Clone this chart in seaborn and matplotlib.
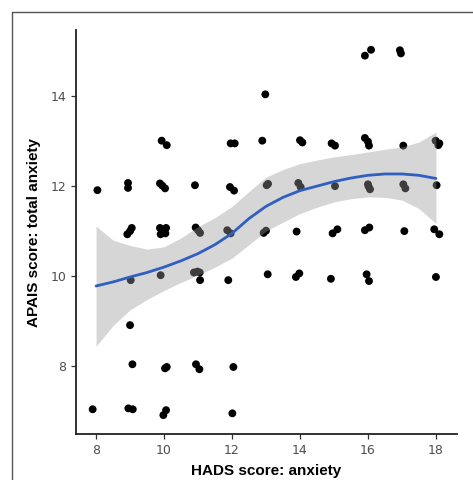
import numpy as np
import pandas as pd
import seaborn as sns
import matplotlib.pyplot as plt
from matplotlib.lines import Line2D

# jittered scatter points (HADS anxiety vs APAIS total)
hads = [7.9, 8.95, 9.08, 9.98, 10.06, 12.01,
        9.07, 10.03, 10.08, 10.94, 11.04, 12.04,
        9.0,
        9.02, 9.9, 10.88, 10.98, 11.05, 11.06, 11.89, 13.05, 13.88, 13.98, 14.91, 15.96, 16.03, 18.0,
        8.92, 9.0, 9.05, 9.88, 10.06, 9.9, 10.04, 10.93, 11.0, 11.06, 11.86, 11.96, 12.93, 13.0,
        13.9, 14.96, 15.1, 15.91, 16.04, 17.07, 17.95, 18.1,
        8.04, 8.94, 8.94, 9.88, 10.03, 9.95, 10.91, 11.94, 12.06, 13.02, 13.06,
        13.95, 14.02, 15.03, 16.0, 16.02, 16.06, 17.04, 17.1, 18.02,
        9.93, 10.08, 11.96, 12.08, 12.89, 14.0, 14.07, 14.93, 15.03, 15.91, 16.0, 16.03,
        17.04, 17.99, 18.07, 18.1,
        12.98,
        15.91, 16.09, 16.94, 16.97]
apais = [7.04, 7.06, 7.04, 6.91, 7.02, 6.95,
         8.04, 7.95, 7.98, 8.04, 7.93, 7.98,
         8.91,
         9.91, 10.02, 10.08, 10.1, 10.08, 9.91, 9.91, 10.04, 9.98, 10.06, 9.94, 10.04, 9.89, 9.98,
         10.93, 11.0, 11.07, 11.07, 11.07, 10.93, 10.95, 11.08, 11.02, 10.96, 11.02, 10.95, 10.96, 11.01,
         10.99, 10.95, 11.04, 11.02, 11.08, 11.0, 11.04, 10.93,
         11.91, 12.07, 11.96, 12.06, 11.95, 12.01, 12.02, 11.98, 11.9, 12.02, 12.05,
         12.07, 11.98, 12.0, 12.04, 11.99, 11.93, 12.04, 11.95, 12.02,
         13.01, 12.91, 12.95, 12.95, 13.01, 13.02, 12.97, 12.95, 12.9, 13.07, 12.99, 12.9,
         12.9, 13.01, 12.91, 12.95,
         14.04,
         14.9, 15.03, 15.02, 14.95]

# loess fit and its confidence band
fit_x = [8, 8.5, 9, 9.5, 10, 10.5, 11, 11.5, 12, 12.5, 13, 13.5, 14, 14.5, 15, 15.5, 16, 16.5, 17, 17.5, 18]
fit_y = [9.78, 9.87, 9.98, 10.08, 10.2, 10.34, 10.5, 10.7, 10.95, 11.28, 11.55, 11.75, 11.9,
         12.0, 12.1, 12.18, 12.24, 12.27, 12.27, 12.24, 12.17]
fit_lo = [8.44, 8.9, 9.25, 9.48, 9.68, 9.86, 10.02, 10.2, 10.4, 10.7, 11.0, 11.2, 11.39,
          11.53, 11.65, 11.72, 11.76, 11.75, 11.69, 11.5, 11.17]
fit_hi = [11.11, 10.8, 10.68, 10.6, 10.65, 10.85, 11.1, 11.3, 11.55, 11.88, 12.2, 12.37, 12.5,
          12.58, 12.65, 12.7, 12.76, 12.82, 12.87, 12.98, 13.2]

df = pd.DataFrame({'HADS': hads, 'APAIS': apais})
fit = pd.DataFrame({'x': fit_x, 'y': fit_y, 'lo': fit_lo, 'hi': fit_hi})

sns.set_style('ticks')
fig = plt.figure(figsize=(4.73, 4.80), dpi=100)
ax = fig.add_axes([0.1607, 0.0958, 0.8055, 0.8417])

sns.scatterplot(data=df, x='HADS', y='APAIS', ax=ax, color='black', s=32,
                edgecolor='none', zorder=2)
ax.fill_between(fit['x'], fit['lo'], fit['hi'], color='#999999', alpha=0.4,
                linewidth=0, zorder=3)
sns.lineplot(data=fit, x='x', y='y', ax=ax, color='#2f5fbf', linewidth=2,
             sort=False, estimator=None, zorder=4)

ax.set_xlim(7.41, 18.62)
ax.set_ylim(6.49, 15.47)
ax.set_xticks([8, 10, 12, 14, 16, 18])
ax.set_yticks([8, 10, 12, 14])
ax.tick_params(axis='both', labelsize=9, colors='#333333', labelcolor='#4d4d4d',
               length=3.5, width=0.9)
for side in ['top', 'right']:
    ax.spines[side].set_visible(False)
for side in ['left', 'bottom']:
    ax.spines[side].set_color('#222222')
    ax.spines[side].set_linewidth(1.3)

ax.set_xlabel('HADS score: anxiety', fontsize=11, fontweight='bold', color='black',
              family='Liberation Sans', labelpad=5)
ax.set_ylabel('APAIS score: total anxiety', fontsize=11, fontweight='bold', color='black',
              family='Liberation Sans', labelpad=7)

# thin frame around the figure (top and left edges)
fig.add_artist(Line2D([12 / 473, 1.0], [1 - 12 / 480, 1 - 12 / 480],
                      transform=fig.transFigure, color='#555555', linewidth=1))
fig.add_artist(Line2D([12 / 473, 12 / 473], [0, 1 - 12 / 480],
                      transform=fig.transFigure, color='#555555', linewidth=1))

fig.savefig('out.png', dpi=100)
